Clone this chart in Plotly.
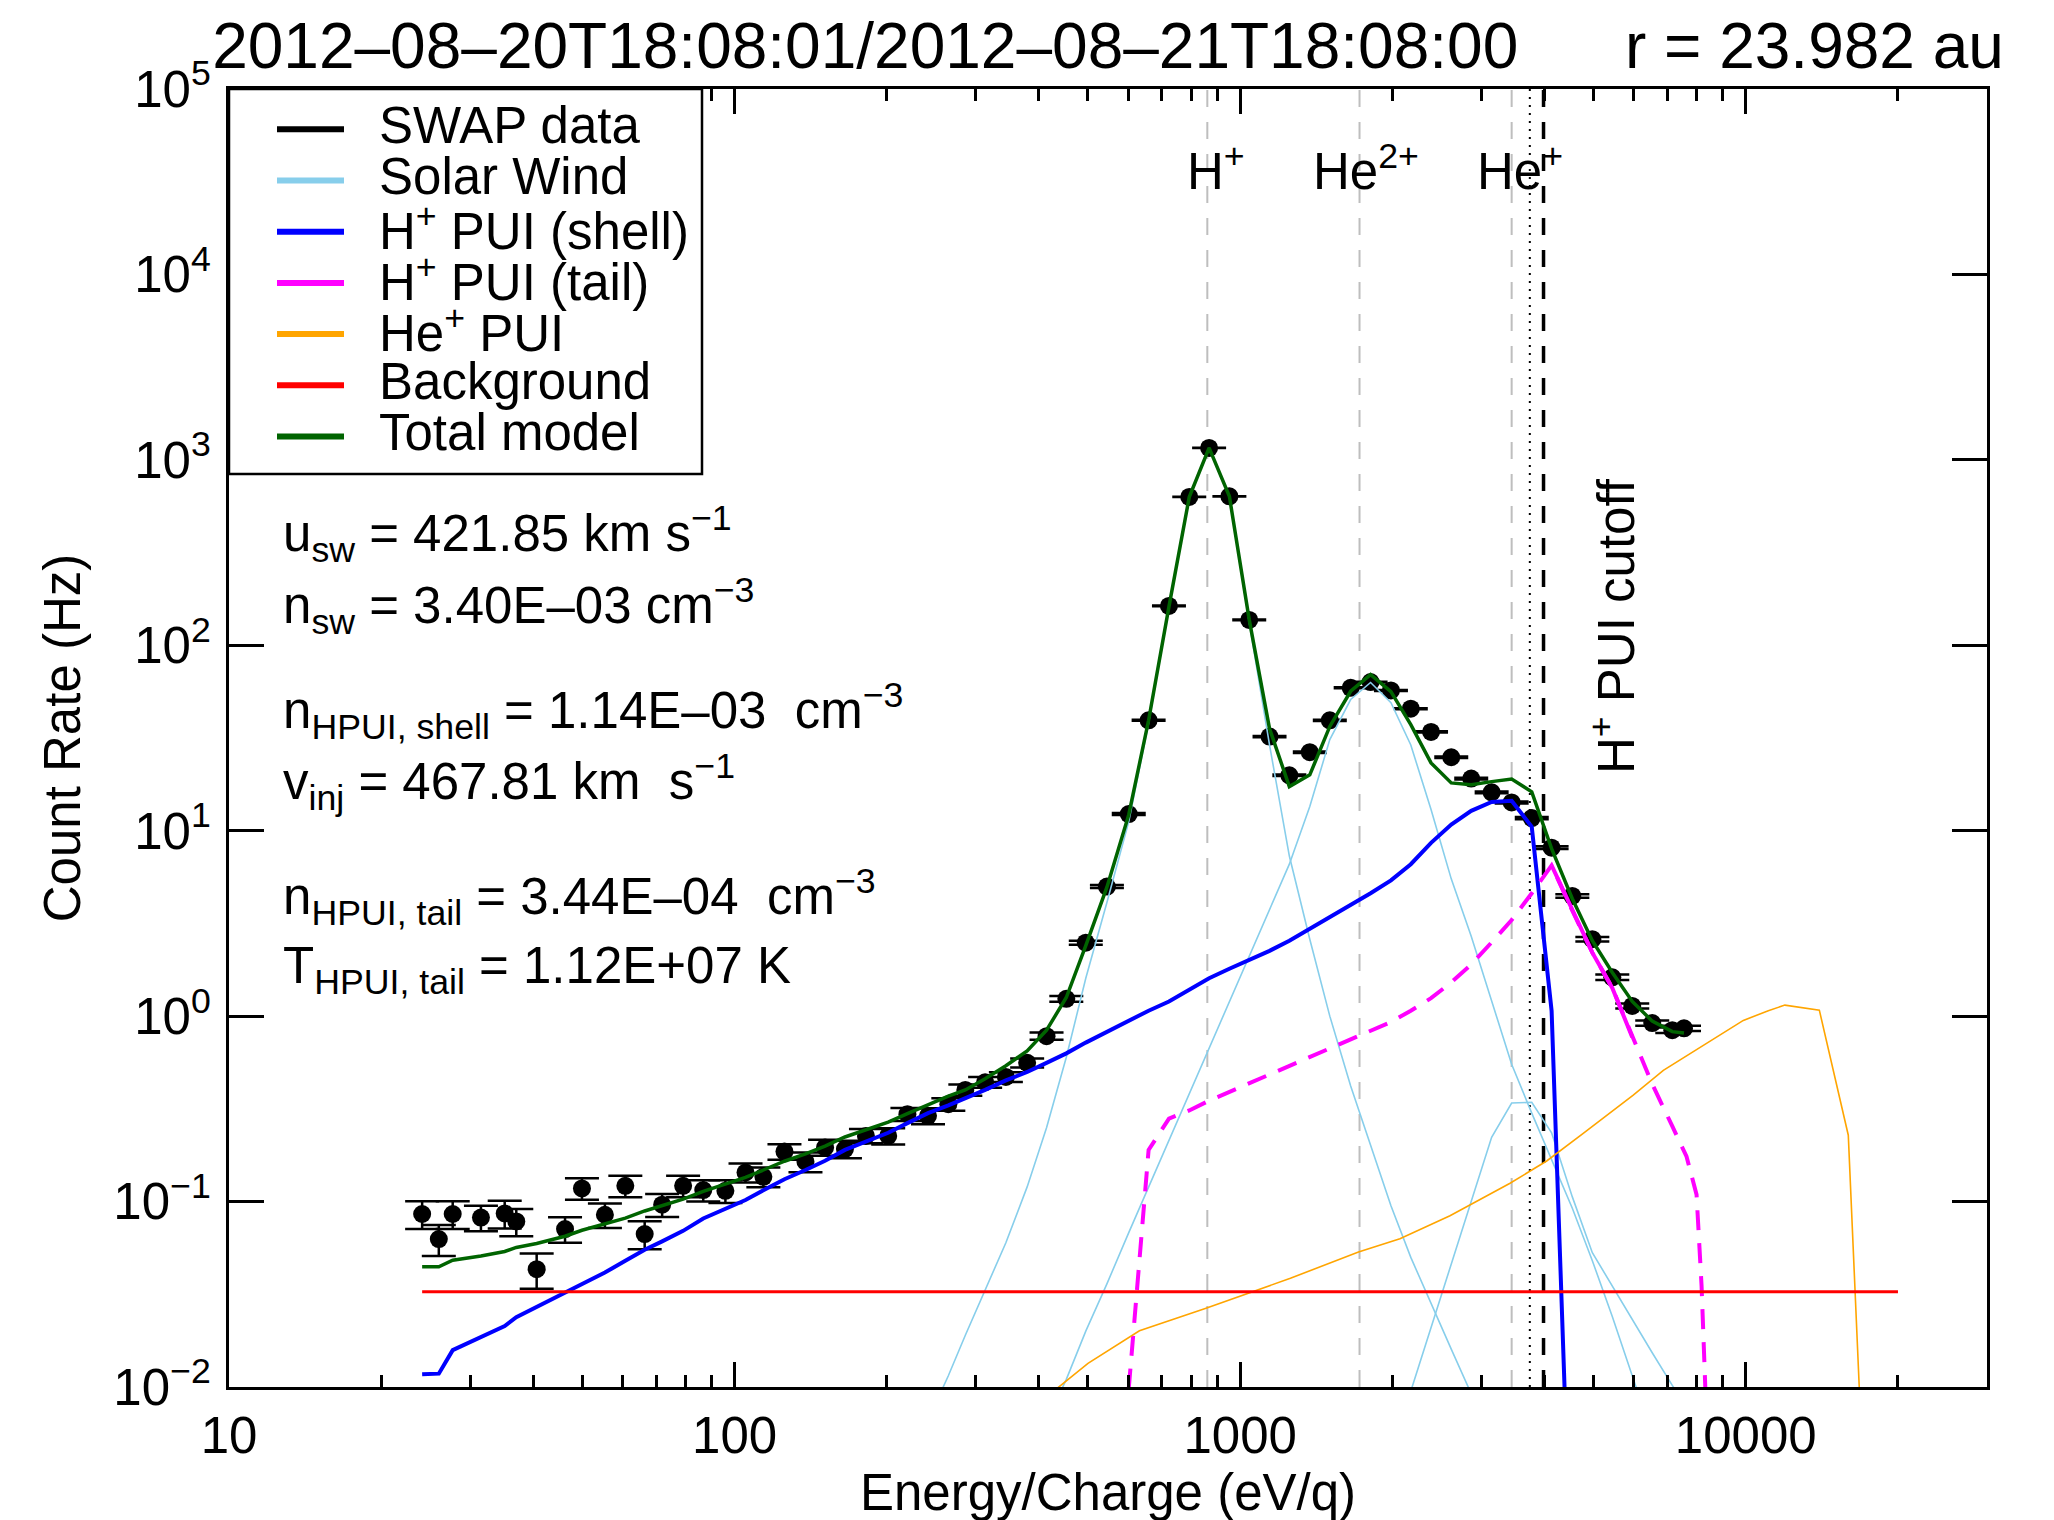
import math
import plotly.graph_objects as go

# ---------------- SWAP data (energy/charge in eV/q, count rate in Hz) ----------------
energy = [24.1, 26.0, 27.7, 31.5, 35.1, 37.0, 40.6, 46.2, 49.9, 55.4, 60.8, 66.4, 71.9, 79.1, 86.7, 95.9,
          105.1, 114.0, 125.5, 138.1, 151.0, 165.3, 181.9, 201.3, 219.7, 241.3, 264.7, 286, 313, 344, 379, 414,
          453, 495, 545, 602, 659, 723, 793, 868, 952, 1042, 1143, 1251, 1373, 1504, 1654, 1811, 1987, 2175,
          2385, 2615, 2864, 3143, 3443, 3773, 4130, 4539, 4972, 5445, 5963, 6531, 7156, 7548]
rate = [0.0857, 0.0628, 0.0857, 0.082, 0.0863, 0.0781, 0.0432, 0.0711, 0.1178, 0.0849, 0.1216, 0.0668,
        0.0962, 0.1216, 0.1153, 0.1143, 0.1435, 0.136, 0.186, 0.164, 0.196, 0.192, 0.226, 0.226, 0.296,
        0.290, 0.335, 0.40, 0.44, 0.47, 0.56, 0.78, 1.24, 2.49, 5.0, 12.3, 39.4, 163, 631, 1159, 636, 137,
        32.2, 19.9, 26.5, 39.4, 59.0, 63.3, 57.1, 45.5, 34.1, 24.9, 19.1, 16.1, 14.2, 11.7, 8.1, 4.45, 2.6,
        1.62, 1.135, 0.917, 0.84, 0.86]
rate_err = [0.0146, 0.0119, 0.0146, 0.0128, 0.0147, 0.013, 0.0093, 0.0111, 0.0156, 0.0128, 0.016, 0.0114,
            0.0136, 0.016, 0.0152, 0.0161, 0.0169, 0.0166, 0.0177, 0.020, 0.0196, 0.021, 0.020, 0.0226,
            0.024, 0.029, 0.026, 0.028, 0.029, 0.028, 0.031, 0.035, 0.043, 0.062, 0.09, 0.15, 0.28, 0.65,
            1.3, 1.6, 1.3, 0.6, 0.25, 0.2, 0.24, 0.3, 0.36, 0.37, 0.36, 0.32, 0.28, 0.24, 0.21, 0.19, 0.18,
            0.16, 0.14, 0.10, 0.075, 0.055, 0.035, 0.03, 0.028, 0.028]

# ---------------- model components ----------------
total_model = [0.0445, 0.0445, 0.0483, 0.0509, 0.0538, 0.0566, 0.0594, 0.065, 0.070, 0.0755, 0.0814, 0.089,
               0.0948, 0.103, 0.1136, 0.124, 0.135, 0.148, 0.165, 0.181, 0.199, 0.223, 0.243, 0.268, 0.298,
               0.333, 0.37, 0.40, 0.46, 0.54, 0.65, 0.84, 1.26, 2.40, 4.96, 12.2, 39.4, 161.7, 630, 1160,
               636, 137.5, 35.5, 17.3, 20.0, 36.5, 56.5, 69.5, 56.3, 37.3, 23.2, 18.1, 17.7, 18.4, 19.0,
               16.2, 8.0, 4.3, 2.55, 1.72, 1.2, 0.94, 0.825, 0.81]

shell_energy = [24.1, 26.0, 27.7, 31.5, 35.1, 37.0, 40.6, 46.2, 49.9, 55.4, 60.8, 66.4, 71.9, 79.1, 86.7,
                95.9, 105.1, 114.0, 125.5, 138.1, 151.0, 165.3, 181.9, 201.3, 219.7, 241.3, 264.7, 286, 313,
                344, 379, 414, 453, 495, 545, 602, 659, 723, 793, 868, 952, 1042, 1143, 1251, 1373, 1504,
                1654, 1811, 1987, 2175, 2385, 2615, 2864, 3143, 3443, 3773, 4130, 4539]
shell_rate = [0.0117, 0.0118, 0.0158, 0.0185, 0.0213, 0.0238, 0.027, 0.0322, 0.036, 0.0414, 0.048, 0.055,
              0.061, 0.0695, 0.081, 0.0915, 0.102, 0.115, 0.132, 0.148, 0.166, 0.19, 0.21, 0.235, 0.265,
              0.30, 0.33, 0.36, 0.40, 0.45, 0.50, 0.56, 0.63, 0.72, 0.82, 0.95, 1.07, 1.2, 1.38, 1.6, 1.8,
              2.0, 2.25, 2.55, 2.95, 3.4, 3.95, 4.6, 5.4, 6.6, 8.6, 10.8, 12.8, 14.3, 14.5, 10.5, 1.07, 0.0006]

tail_energy = [602, 659, 723, 793, 868, 952, 1042, 1143, 1251, 1373, 1504, 1654, 1811, 1987, 2175, 2385,
               2615, 2864, 3143, 3443, 3773, 4130, 4539, 4972, 5445, 5963, 6531, 7156, 7635, 7992, 8177, 8420]
tail_rate = [0.0098, 0.19, 0.28, 0.31, 0.35, 0.39, 0.43, 0.48, 0.535, 0.6, 0.67, 0.75, 0.83, 0.93, 1.07, 1.25,
             1.52, 1.9, 2.5, 3.3, 4.6, 6.5, 3.7, 2.2, 1.42, 0.77, 0.43, 0.255, 0.175, 0.109, 0.035, 0.004]

sw_h_energy = [241.3, 264.7, 286, 313, 344, 379, 414, 453, 495, 545, 602, 659, 723, 793, 868, 952, 1042,
               1143, 1251, 1373, 1504, 1654, 1811, 1987, 2175, 2385, 2615, 2864]
sw_h_rate = [0.0066, 0.0115, 0.019, 0.033, 0.06, 0.12, 0.25, 0.6, 1.6, 4.1, 11.2, 38, 160, 628, 1157, 633,
             133, 29, 7.3, 2.6, 1.0, 0.42, 0.2, 0.095, 0.05, 0.028, 0.016, 0.0092]

sw_he2_energy = [414, 453, 495, 545, 602, 659, 723, 793, 868, 952, 1042, 1143, 1251, 1373, 1504, 1654, 1811,
                 1987, 2175, 2385, 2615, 2864, 3143, 3443, 3773, 4130, 4539, 4972, 5445, 5963, 6531]
sw_he2_rate = [0.0065, 0.011, 0.020, 0.036, 0.068, 0.12, 0.21, 0.38, 0.67, 1.2, 2.1, 3.8, 6.6, 13.5, 31, 51,
               63, 49, 29, 13, 5.5, 2.7, 1.22, 0.55, 0.30, 0.17, 0.092, 0.048, 0.024, 0.0115, 0.0055]

sw_he1_energy = [2175, 2385, 2615, 2864, 3143, 3443, 3773, 4130, 4539, 4972, 5445, 5963, 6531, 7156, 7548]
sw_he1_rate = [0.0095, 0.021, 0.047, 0.10, 0.222, 0.34, 0.343, 0.235, 0.106, 0.053, 0.035, 0.023, 0.0153,
               0.0102, 0.0082]

he_pui_energy = [400, 500, 632, 853, 1257, 1714, 2070, 2600, 3418, 4038, 4770, 5990, 6870, 8120, 9890,
                 11080, 11950, 13980, 15950, 16780, 17500]
he_pui_rate = [0.0082, 0.0134, 0.0201, 0.0265, 0.0386, 0.0534, 0.063, 0.0838, 0.1255, 0.1655, 0.233, 0.375,
               0.51, 0.679, 0.948, 1.07, 1.147, 1.077, 0.228, 0.0095, 0.001]

bg_energy = [24.1, 20000]
bg_rate = [0.0326, 0.0326]

# reference energies (eV/q)
e_hplus = 861
e_he2plus = 1722
e_heplus = 3443
e_dotted = 3740
e_cutoff = 3981

# axes
x_range = [10, 30000]
y_range = [1e-2, 1e5]
x_tick_vals = [10, 100, 1000, 10000]
x_tick_text = ['10', '100', '1000', '10000']
x_minor_vals = [m * 10 ** d for d in range(1, 5) for m in range(2, 10) if m * 10 ** d < 30000]
y_tick_vals = [1e-2, 1e-1, 1e0, 1e1, 1e2, 1e3, 1e4, 1e5]
y_tick_text = ['10<sup>\u22122</sup>', '10<sup>\u22121</sup>', '10<sup>0</sup>', '10<sup>1</sup>',
               '10<sup>2</sup>', '10<sup>3</sup>', '10<sup>4</sup>', '10<sup>5</sup>']

# colours
C_DATA = 'black'
C_SW = '#87CEEB'
C_SHELL = '#0000FF'
C_TAIL = '#FF00FF'
C_HE = '#FFA500'
C_BG = '#FF0000'
C_TOT = '#006400'
C_REF = '#BEBEBE'

FONT = 'Liberation Sans, Arial, Helvetica, sans-serif'

fig = go.Figure()

# vertical reference lines
for e, col, dash, w in [(e_hplus, C_REF, '17px,15px', 2), (e_he2plus, C_REF, '17px,15px', 2),
                        (e_heplus, C_REF, '17px,15px', 2), (e_dotted, 'black', '2px,6px', 2),
                        (e_cutoff, 'black', '17px,15px', 3.5)]:
    fig.add_trace(go.Scatter(x=[e, e], y=y_range, mode='lines', showlegend=False, hoverinfo='skip',
                             line=dict(color=col, width=w, dash=dash)))

# data
fig.add_trace(go.Scatter(x=energy, y=rate, mode='markers', name='SWAP data',
                         marker=dict(color=C_DATA, size=18, symbol='circle'),
                         error_y=dict(type='data', array=rate_err, color=C_DATA, thickness=2.5, width=17)))

# solar wind components
fig.add_trace(go.Scatter(x=sw_h_energy, y=sw_h_rate, mode='lines', name='Solar Wind',
                         line=dict(color=C_SW, width=1.6)))
fig.add_trace(go.Scatter(x=sw_he2_energy, y=sw_he2_rate, mode='lines', name='Solar Wind He2+',
                         line=dict(color=C_SW, width=1.6)))
fig.add_trace(go.Scatter(x=sw_he1_energy, y=sw_he1_rate, mode='lines', name='Solar Wind He+',
                         line=dict(color=C_SW, width=1.6)))

# H+ PUI shell
fig.add_trace(go.Scatter(x=shell_energy, y=shell_rate, mode='lines', name='H+ PUI (shell)',
                         line=dict(color=C_SHELL, width=4)))
# H+ PUI tail
fig.add_trace(go.Scatter(x=tail_energy, y=tail_rate, mode='lines', name='H+ PUI (tail)',
                         line=dict(color=C_TAIL, width=4, dash='20px,13px')))
fig.add_trace(go.Scatter(x=tail_energy[21:26], y=tail_rate[21:26], mode='lines', showlegend=False,
                         line=dict(color=C_TAIL, width=4)))
# He+ PUI
fig.add_trace(go.Scatter(x=he_pui_energy, y=he_pui_rate, mode='lines', name='He+ PUI',
                         line=dict(color=C_HE, width=1.6)))
# background
fig.add_trace(go.Scatter(x=bg_energy, y=bg_rate, mode='lines', name='Background',
                         line=dict(color=C_BG, width=3)))
# total model
fig.add_trace(go.Scatter(x=energy, y=total_model, mode='lines', name='Total model',
                         line=dict(color=C_TOT, width=3.5)))

# ---------------- layout geometry (page pixels; the page body adds an 8 px offset) ----------------
OFF = 8
FIG_W, FIG_H = 2054, 1520
L, R, T, B = 229, 1987, 89, 1387
W, H = R - L, B - T


def px(xp):
    return (xp - L) / W


def py(yp):
    return (B - yp) / H


shapes = []
annotations = []
shapes.append(dict(type='rect', xref='paper', yref='paper', x0=px(L), x1=px(702), y0=py(474), y1=py(T),
                   line=dict(color='black', width=2.5), fillcolor='white', layer='above'))
legend_items = [('SWAP data', C_DATA), ('Solar Wind', C_SW), ('H<sup>+</sup> PUI (shell)', C_SHELL),
                ('H<sup>+</sup> PUI (tail)', C_TAIL), ('He<sup>+</sup> PUI', C_HE), ('Background', C_BG),
                ('Total model', C_TOT)]
for i, (label, col) in enumerate(legend_items):
    yrow = 129.3 + 51.2 * i
    shapes.append(dict(type='line', xref='paper', yref='paper', x0=px(277), x1=px(344), y0=py(yrow),
                       y1=py(yrow), line=dict(color=col, width=6), layer='above'))
    annotations.append(dict(text=label, xref='paper', yref='paper', x=px(377), y=py(yrow - 4),
                            xanchor='left', yanchor='middle', showarrow=False, font=dict(size=51)))

# parameter text
params = [
    ('u<sub>sw</sub> = 421.85 km s<sup>\u22121</sup>', 534),
    ('n<sub>sw</sub> = 3.40E\u201303 cm<sup>\u22123</sup>', 606),
    ('n<sub>HPUI, shell</sub> = 1.14E\u201303\u00a0\u00a0cm<sup>\u22123</sup>', 711),
    ('v<sub>inj</sub> = 467.81 km\u00a0\u00a0s<sup>\u22121</sup>', 782),
    ('n<sub>HPUI, tail</sub> = 3.44E\u201304\u00a0\u00a0cm<sup>\u22123</sup>', 897),
    ('T<sub>HPUI, tail</sub> = 1.12E+07 K', 969),
]
for txt, yp in params:
    annotations.append(dict(text=txt, xref='paper', yref='paper', x=px(281), y=py(yp), xanchor='left',
                            yanchor='middle', showarrow=False, font=dict(size=51)))

# line labels
for txt, xc in [('H<sup>+</sup>', 1216), ('He<sup>2+</sup>', 1366), ('He<sup>+</sup>', 1520)]:
    annotations.append(dict(text=txt, xref='paper', yref='paper', x=px(xc), y=py(168), xanchor='center',
                            yanchor='middle', showarrow=False, font=dict(size=51)))
annotations.append(dict(text='H<sup>+</sup> PUI cutoff', xref='paper', yref='paper', x=px(1613), y=py(626),
                        xanchor='center', yanchor='middle', textangle=-90, showarrow=False,
                        font=dict(size=51)))

axis_common = dict(showline=True, linecolor='black', linewidth=3, mirror='allticks', ticks='inside',
                   tickcolor='black', tickwidth=3, showgrid=False, zeroline=False,
                   tickfont=dict(size=51, color='black'))

fig.update_layout(
    width=FIG_W, height=FIG_H,
    margin=dict(l=L - OFF, r=FIG_W - R + OFF, t=T - OFF, b=FIG_H - B + OFF, autoexpand=False),
    paper_bgcolor='white', plot_bgcolor='white',
    font=dict(family=FONT, size=51, color='black'),
    showlegend=False,
    title=dict(text='2012\u201308\u201320T18:08:01/2012\u201308\u201321T18:08:00' + '\u00a0' * 6 +
               'r = 23.982 au', x=0.5, xref='paper', xanchor='center', y=1 - (46 - OFF) / FIG_H,
               yref='container', yanchor='middle', font=dict(size=64)),
    xaxis=dict(type='log', range=[math.log10(x_range[0]), math.log10(x_range[1])], ticklen=25,
               tickmode='array', tickvals=x_tick_vals, ticktext=x_tick_text,
               minor=dict(tickmode='array', tickvals=x_minor_vals, ticks='inside', ticklen=12,
                          tickwidth=2.5, tickcolor='black', showgrid=False),
               title=dict(text='Energy/Charge (eV/q)', standoff=8, font=dict(size=51)),
               ticklabelstandoff=2, **axis_common),
    yaxis=dict(type='log', range=[math.log10(y_range[0]), math.log10(y_range[1])], ticklen=35,
               tickmode='array', tickvals=y_tick_vals, ticktext=y_tick_text,
               title=dict(text='Count Rate (Hz)', standoff=17, font=dict(size=51)),
               ticklabelstandoff=5, **axis_common),
    shapes=shapes,
    annotations=annotations,
)

fig.write_html("out.html")
